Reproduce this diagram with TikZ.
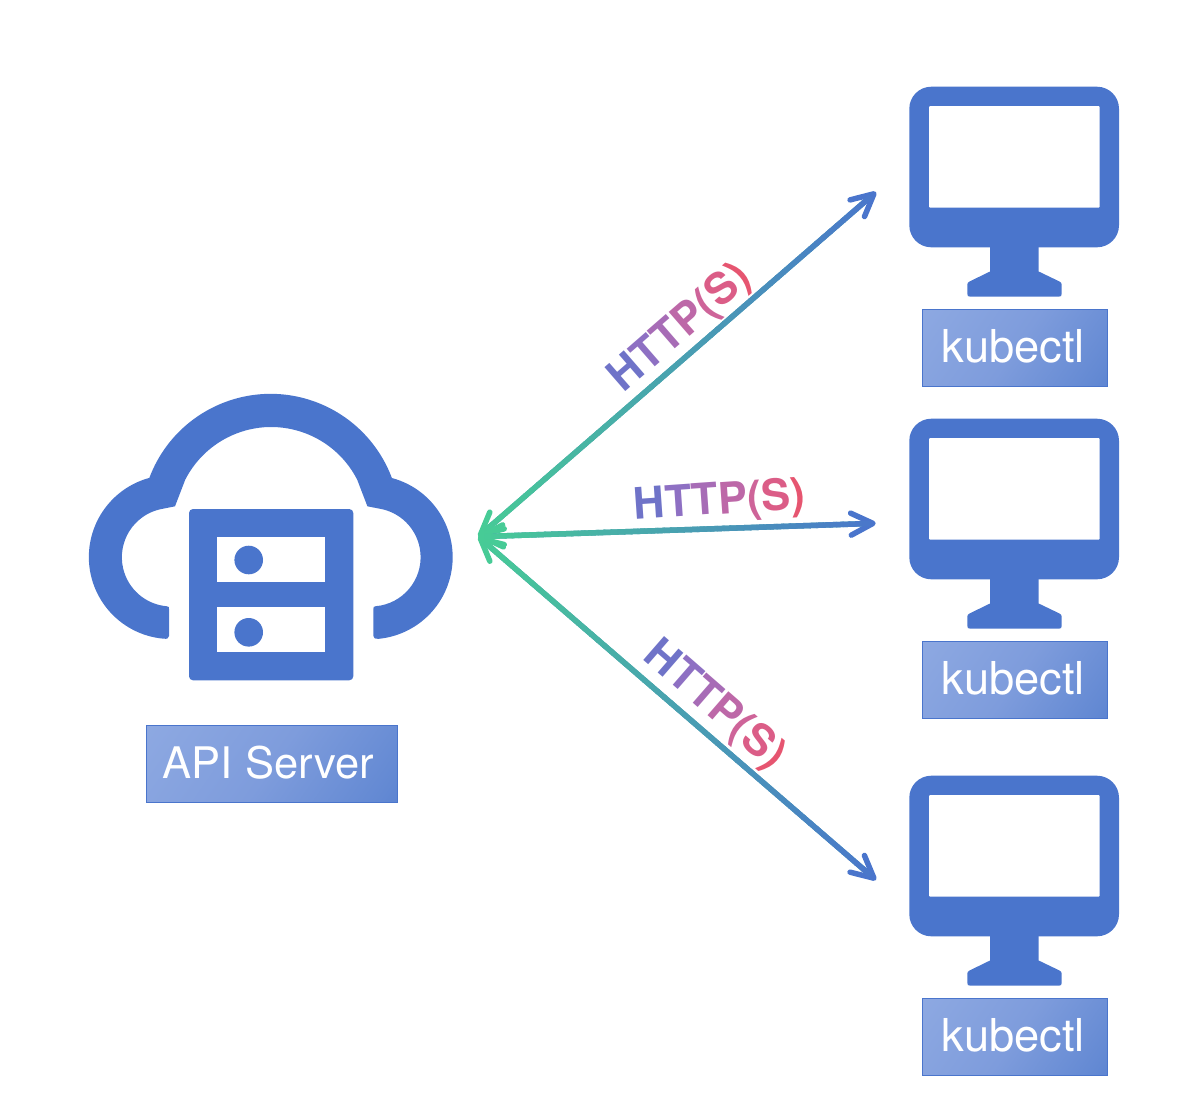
\documentclass[tikz,border=0pt]{standalone}
\usepackage{fontspec}
\setmainfont{TeX Gyre Heros}
\usetikzlibrary{arrows.meta,calc}
\definecolor{iconblue}{HTML}{4A75CC}
\definecolor{boxlight}{HTML}{94AEE4}
\definecolor{boxmid}{HTML}{7E9CDC}
\definecolor{boxdeep}{HTML}{6389D3}
\definecolor{linegreen}{HTML}{47CB96}
\pgfdeclareverticalshading{boxshade}{100bp}{color(0bp)=(iconblue); color(20bp)=(boxdeep); color(50bp)=(boxmid); color(100bp)=(boxlight)}
\tikzset{
  icon/.style={fill=iconblue,draw=none},
  hole/.style={fill=white,draw=none},
  labelbox/.style={draw=iconblue,line width=1.5pt,shading=boxshade,shading angle=55},
  labeltext/.style={text=white,inner sep=0pt,anchor=base west,font=\fontsize{45.3}{45.3}\selectfont},
  apitext/.style={labeltext,font=\fontsize{43.5}{43.5}\selectfont},
  proto/.style={inner sep=0pt,anchor=base west,font=\fontsize{43.5}{43.5}\selectfont\bfseries},
  link/.style={line width=5.5pt,line cap=round,color=iconblue!50!linegreen,
    {Straight Barb[length=22pt,width=22pt,round,line width=5.5pt,color=linegreen]}-{Straight Barb[length=22pt,width=22pt,round,line width=5.5pt,color=iconblue]}},
}
% gradient overlay on a connector: green at the first end, blue at the second
\newcommand{\gradlink}[2]{%
  \draw[link] (#1) -- (#2);
  \foreach \i in {1,...,58}{%
    \pgfmathtruncatemacro{\pct}{100*\i/60}%
    \pgfmathsetmacro{\ta}{\i/60}\pgfmathsetmacro{\tb}{(\i+1.2)/60}%
    \colorlet{segc}{iconblue!\pct!linegreen}%
    \draw[line width=5.5pt,color=segc] ($(#1)!\ta!(#2)$) -- ($(#1)!\tb!(#2)$);
  }%
}
\newcommand{\httplabel}{%
  \textcolor[HTML]{6F73C8}{H}\textcolor[HTML]{8E70C3}{T}\textcolor[HTML]{A76CB6}{T}\textcolor[HTML]{BD68A8}{P}\textcolor[HTML]{CE6499}{(}\textcolor[HTML]{DB5D87}{S}\textcolor[HTML]{E65570}{)}}
% monitor icon: #1 = vertical offset
\newcommand{\monitor}[1]{%
  \begin{scope}[yshift=-#1pt]
    \fill[icon,rounded corners=22pt] (909.3,86.7) rectangle (1119,247.3);
    \fill[icon] (990,240) -- (990,271.5) -- (969.5,281.5) .. controls (968,282.3) and (967.3,283) .. (967.3,285)
      -- (967.3,293.7) .. controls (967.3,296) and (968,296.7) .. (970.3,296.7)
      -- (1058.7,296.7) .. controls (1061,296.7) and (1061.7,296) .. (1061.7,293.7)
      -- (1061.7,285) .. controls (1061.7,283) and (1061,282.3) .. (1059.5,281.5)
      -- (1038.7,271.5) -- (1038.7,240) -- cycle;
    \fill[hole,rounded corners=1pt] (929,106) rectangle (1099.7,207.7);
  \end{scope}}
\begin{document}
\begin{tikzpicture}[x=1pt,y=-1pt]
\useasboundingbox (0,0) rectangle (1178,1104);
% API server cloud
\fill[icon] (149.3,478) arc[start angle=200.5,end angle=339.5,radius=129.5]
  arc[start angle=285,end angle=444.7,radius=82]
  .. controls (375.4,639) and (373.4,638.5) .. (373.4,636) -- (373.4,609)
  .. controls (373.4,607) and (373.4,606.5) .. (375.7,606.2)
  arc[start angle=85,end angle=-77,radius=49.2]
  -- (367.4,506.3) -- (357.2,479.7)
  arc[start angle=333,end angle=207,radius=96.5]
  -- (175,506.3)
  -- (160,509.3)
  arc[start angle=257,end angle=95,radius=49.2]
  .. controls (169,606.5) and (169,607) .. (169,609) -- (169,636)
  .. controls (169,638.5) and (167,639) .. (163.7,638.7)
  arc[start angle=95,end angle=254.7,radius=82] -- cycle;
\fill[icon,rounded corners=4pt] (189,509) rectangle (353.3,680.3);
\fill[hole] (217,537) rectangle (325,582);
\fill[hole] (217,607) rectangle (325,652);
\fill[icon] (248.7,560) circle[radius=14.3];
\fill[icon] (248.7,632.3) circle[radius=14.3];
% API server label
\path[labelbox] (146.3,725.3) rectangle (397.7,802.7);
\node[apitext] (apilabel) at (162.7,778) {API Server};
% monitors
\monitor{0}
\monitor{332}
\monitor{689}
\path[labelbox] (922.3,309.3) rectangle (1107.7,386.7);
\node[labeltext] (kubectla) at (941.7,362.5) {kubectl};
\path[labelbox] (922.3,641.3) rectangle (1107.7,718.7);
\node[labeltext] (kubectlb) at (941.7,694.5) {kubectl};
\path[labelbox] (922.3,998.3) rectangle (1107.7,1075.7);
\node[labeltext] (kubectlc) at (941.7,1051.5) {kubectl};
% connectors
\coordinate (hub) at (478.3,536.7);
\coordinate (tipa) at (876,192);
\coordinate (tipb) at (875.7,523.3);
\coordinate (tipc) at (876,880);
\gradlink{hub}{tipa}
\gradlink{hub}{tipc}
\gradlink{hub}{tipb}
% labels
\node[proto,rotate=41] (httpa) at (623.5,394) {\httplabel};
\node[proto,rotate=4] (httpb) at (634.7,520) {\httplabel};
\node[proto,rotate=-41] (httpc) at (641.7,658) {\httplabel};
\end{tikzpicture}
\end{document}
